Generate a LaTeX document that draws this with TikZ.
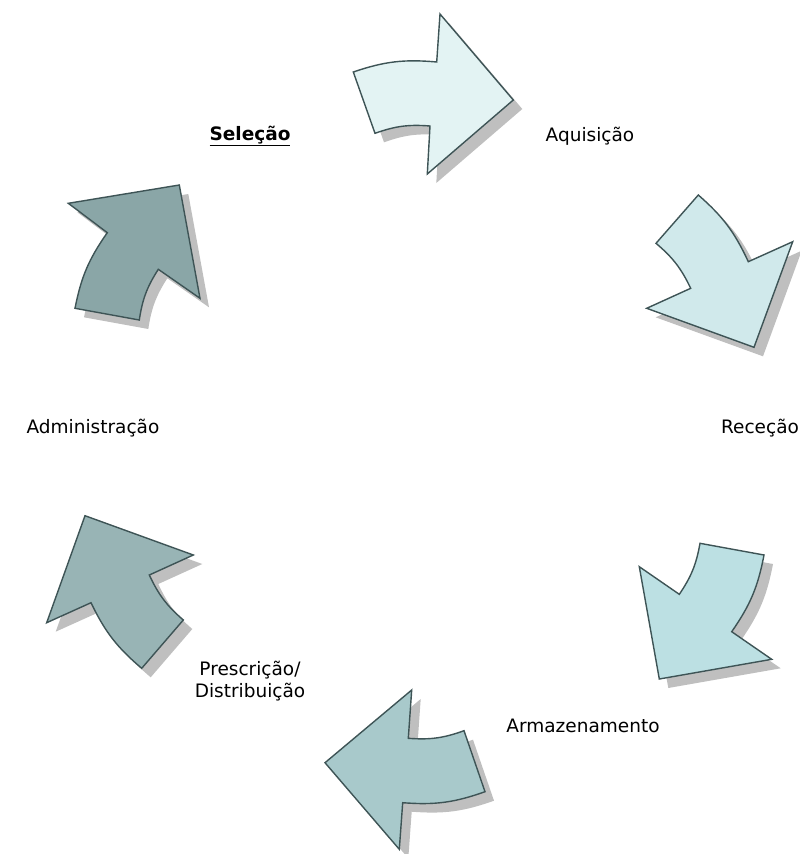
\documentclass[tikz,border=0pt]{standalone}
\usepackage{fontspec}
\setmainfont{DejaVu Sans}
\definecolor{cycA}{HTML}{E3F3F3}
\definecolor{cycB}{HTML}{D0E9EB}
\definecolor{cycC}{HTML}{BCE0E3}
\definecolor{cycD}{HTML}{A8C9CB}
\definecolor{cycE}{HTML}{98B4B5}
\definecolor{cycF}{HTML}{8AA6A7}
\definecolor{cycline}{HTML}{3E5456}
\definecolor{cycshade}{HTML}{BFBFBF}
% #1 fill, #2 tail outer, #3 notch outer, #4 head outer, #5 tip,
% #6 head inner, #7 notch inner, #8 tail inner
\newcommand{\cyclearrow}[8]{%
  \fill[cycshade, shift={(9,-9)}]
    #2 to[bend left=12] #3 -- #4 -- #5 -- #6 -- #7 to[bend right=12] #8 -- cycle;
  \draw[arrowline, fill=#1]
    #2 to[bend left=12] #3 -- #4 -- #5 -- #6 -- #7 to[bend right=12] #8 -- cycle;
}
\begin{document}
\begin{tikzpicture}[x=1pt, y=1pt,
    arrowline/.style={draw=cycline, line width=1.4pt},
    lbl/.style={font=\fontsize{18.5}{22}\selectfont, text=black, inner sep=0pt, align=center}]
  \useasboundingbox (0,0) rectangle (800,-854);
  % arrows, clockwise from the top
  \cyclearrow{cycA}{(353.3,-72)}{(436.7,-62)}{(440,-14)}{(513.3,-100)}{(427.3,-174)}{(430,-126)}{(375,-133.3)}
  \cyclearrow{cycB}{(698.3,-195)}{(748.3,-261.7)}{(792.7,-241.7)}{(754,-347.3)}{(646.7,-308.3)}{(690.7,-288.3)}{(656,-243.3)}
  \cyclearrow{cycC}{(764,-555)}{(731.7,-631.7)}{(771.7,-659.3)}{(659.3,-679)}{(639.3,-566.7)}{(679.3,-594.3)}{(700,-543.3)}
  \cyclearrow{cycD}{(485,-791.7)}{(402.7,-802.7)}{(399.3,-849.3)}{(325,-762.7)}{(411.7,-690)}{(408.3,-738.3)}{(464,-730.7)}
  \cyclearrow{cycE}{(141.7,-668.3)}{(91,-602.7)}{(46.7,-622.7)}{(85,-515.7)}{(193.3,-555)}{(149.3,-575)}{(183.3,-620)}
  \cyclearrow{cycF}{(75,-308.3)}{(107.3,-232.7)}{(68.3,-203.3)}{(179.3,-185)}{(200,-298.3)}{(158.3,-269.3)}{(139.3,-320)}
  % labels
  \node[lbl] (sel) at (250,-136) {\textbf{\underline{Seleção}}};
  \node[lbl] (aqu) at (590,-136) {Aquisição};
  \node[lbl] (rec) at (760,-428) {Receção};
  \node[lbl] (arm) at (583,-726) {Armazenamento};
  \node[lbl] (pre) at (250,-681) {Prescrição/\\Distribuição};
  \node[lbl] (adm) at (93,-428) {Administração};
\end{tikzpicture}
\end{document}
